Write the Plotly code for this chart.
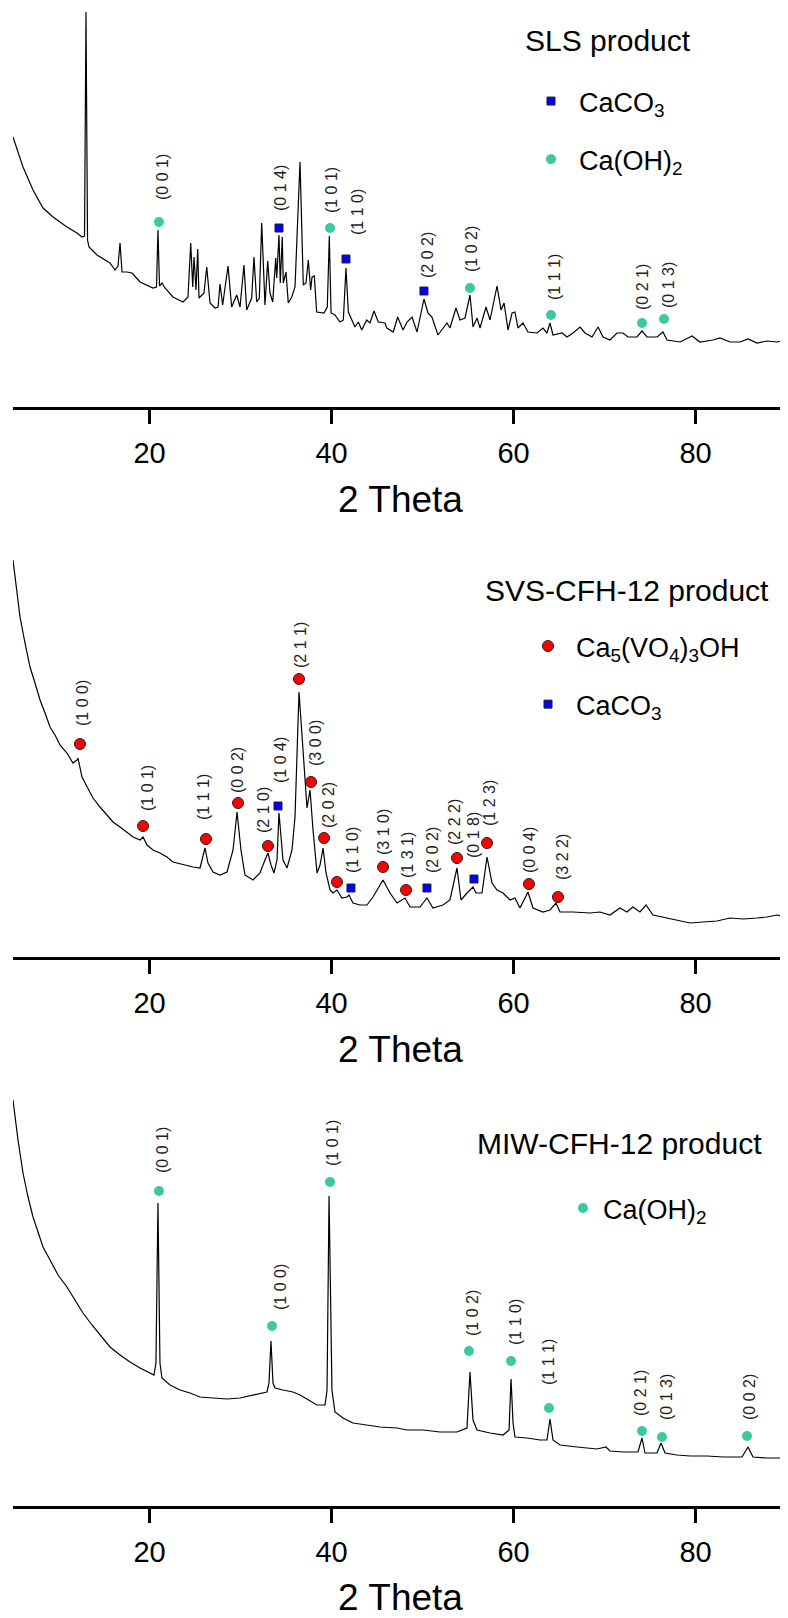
import plotly.graph_objects as go

# ---------------- Panel 1: SLS product ----------------
sls_2theta = [5.00, 6.10, 7.20, 8.30, 9.40, 10.93, 12.03, 12.58, 12.86, 13.02, 13.19, 13.35, 14.23, 15.66,
              16.21, 16.54, 16.76, 16.98, 17.53, 18.08, 18.96, 20.38, 20.77, 20.93, 21.10, 21.37, 21.70,
              22.58, 23.68, 24.23, 24.53, 24.75, 24.89, 25.11, 25.30, 25.44, 25.99, 26.29, 26.65, 27.20,
              27.53, 27.75, 28.04, 28.63, 29.03, 29.58, 29.95, 30.38, 30.68, 31.23, 31.48, 31.78, 32.07,
              32.33, 32.69, 32.99, 33.24, 33.54, 33.87, 33.98, 34.23, 34.37, 34.59, 34.70, 35.00, 35.25,
              35.63, 35.99, 36.54, 36.90, 37.20, 37.45, 37.71, 37.86, 38.11, 38.37, 39.18, 39.54, 39.76,
              39.95, 40.38, 40.93, 41.30, 41.59, 41.85, 42.58, 42.95, 43.32, 43.87, 44.23, 44.67, 45.14,
              45.88, 46.07, 46.79, 47.27, 47.86, 48.30, 48.85, 49.40, 50.16, 50.60, 51.04, 51.70, 52.69,
              53.02, 53.68, 54.12, 54.67, 55.22, 55.55, 55.99, 56.32, 56.98, 57.42, 58.19, 58.63, 58.96,
              59.40, 59.84, 60.16, 60.49, 61.04, 61.59, 62.58, 63.24, 63.68, 64.01, 64.34, 65.33, 65.88,
              66.54, 67.31, 67.86, 68.63, 69.29, 69.84, 70.60, 71.37, 72.03, 72.58, 73.57, 74.12, 74.67,
              75.77, 76.43, 76.87, 78.30, 79.62, 80.49, 81.92, 82.69, 83.79, 84.89, 85.77, 86.76, 87.86,
              88.96, 90.05]
sls_intensity = [270, 240, 217, 199, 190, 180, 174, 170, 171, 395, 167, 160, 152, 144,
                 137, 141, 164, 135, 135, 134, 125, 119, 120, 177, 121, 124, 119,
                 110, 105, 110, 164, 120, 150, 117, 158, 109, 114, 140, 104, 99,
                 100, 123, 102, 141, 100, 112, 100, 142, 97, 109, 150, 105, 109,
                 184, 102, 146, 114, 105, 149, 129, 172, 124, 170, 124, 135, 104,
                 110, 120, 245, 122, 124, 147, 117, 130, 131, 95, 94, 100, 171,
                 94, 92, 85, 87, 139, 95, 80, 85, 77, 87, 84, 96, 85,
                 84, 79, 75, 90, 77, 85, 90, 75, 108, 94, 90, 72, 84,
                 79, 99, 87, 89, 112, 80, 89, 79, 100, 87, 121, 97, 104,
                 77, 94, 95, 79, 84, 75, 74, 79, 74, 84, 72, 74, 70,
                 74, 80, 74, 70, 80, 70, 67, 74, 74, 70, 70, 76, 70,
                 70, 75, 67, 65, 71, 65, 67, 69, 65, 65, 68, 64, 66,
                 65, 67]
sls_caoh2_2theta = [21.04, 39.84, 55.22, 64.12, 74.12, 76.54]
sls_caoh2_int = [185, 179, 119, 92, 84, 88]
sls_caco3_2theta = [34.23, 41.59, 50.16]
sls_caco3_int = [179, 148, 116]
sls_hkl = ["(0 0 1)", "(0 1 4)", "(1 0 1)", "(1 1 0)", "(2 0 2)", "(1 0 2)", "(1 1 1)", "(0 2 1)", "(0 1 3)"]
sls_hkl_2theta = [21.37, 34.34, 39.95, 42.80, 50.49, 55.33, 64.45, 74.12, 76.98]
sls_hkl_int = [205, 194, 192, 170, 127, 133, 105, 95, 97]

# ---------------- Panel 2: SVS-CFH-12 product ----------------
svs_2theta = [5.00, 5.44, 5.77, 6.32, 6.87, 7.42, 7.97, 8.52, 9.07, 9.62, 10.16, 10.93, 11.59, 12.03,
              12.14, 12.58, 13.13, 13.79, 14.56, 15.33, 15.99, 16.76, 17.53, 18.19, 18.96, 19.29, 19.73,
              20.38, 21.15, 21.92, 22.58, 23.35, 24.12, 24.78, 25.55, 26.10, 26.43, 26.98, 27.75, 28.52,
              29.18, 29.62, 30.05, 30.49, 31.37, 32.14, 32.69, 33.02, 33.35, 33.68, 34.01, 34.23, 34.67,
              35.11, 35.66, 35.99, 36.43, 36.76, 36.87, 37.31, 37.64, 37.97, 38.41, 38.74, 39.07, 39.40,
              39.84, 40.16, 40.60, 41.15, 41.70, 41.92, 42.36, 43.13, 43.90, 44.56, 45.66, 46.43, 47.20,
              48.08, 48.63, 49.73, 50.49, 51.15, 52.25, 53.02, 53.79, 54.23, 54.89, 55.55, 55.88, 56.54,
              57.09, 57.64, 58.19, 58.85, 59.62, 60.16, 60.71, 61.59, 62.14, 63.24, 64.01, 64.67, 65.11,
              66.54, 68.41, 69.51, 70.60, 71.70, 72.47, 73.13, 73.90, 74.56, 75.33, 76.43, 77.97, 79.40,
              80.82, 82.36, 83.79, 85.22, 86.76, 87.86, 88.96, 90.05]
svs_intensity = [397, 367, 340, 314, 290, 274, 257, 244, 230, 222, 212, 204, 194, 197,
                 199, 180, 170, 159, 150, 142, 135, 130, 125, 120, 117, 120, 112,
                 107, 104, 100, 95, 93, 91, 90, 89, 109, 94, 85, 82, 85,
                 107, 145, 107, 82, 77, 84, 97, 104, 92, 84, 97, 144, 97,
                 89, 107, 140, 265, 220, 207, 149, 167, 127, 84, 92, 109, 84,
                 67, 64, 67, 59, 60, 62, 54, 52, 52, 60, 77, 64, 54,
                 59, 50, 50, 59, 49, 52, 57, 89, 57, 64, 70, 64, 64,
                 100, 74, 67, 64, 57, 59, 49, 65, 49, 45, 47, 54, 45,
                 45, 44, 45, 42, 49, 45, 50, 45, 52, 42, 40, 37, 34,
                 35, 36, 39, 38, 39, 40, 42, 39]
svs_cvo_2theta = [12.36, 19.29, 26.21, 29.73, 33.02, 36.43, 37.75, 39.18, 40.60, 45.66, 48.19, 53.79, 57.09,
                  61.70, 64.89]
svs_cvo_int = [213, 131, 118, 154, 111, 278, 175, 119, 75, 90, 67, 99, 114, 73, 60]
svs_caco3_2theta = [34.12, 42.14, 50.49, 55.66]
svs_caco3_int = [151, 69, 69, 78]
svs_hkl = ["(1 0 0)", "(1 0 1)", "(1 1 1)", "(0 0 2)", "(2 1 0)", "(1 0 4)", "(2 1 1)", "(3 0 0)", "(2 0 2)",
           "(1 1 0)", "(3 1 0)", "(1 3 1)", "(2 0 2)", "(2 2 2)", "(0 1 8)", "(1 2 3)", "(0 0 4)", "(3 2 2)"]
svs_hkl_2theta = [12.58, 19.73, 25.88, 29.62, 32.47, 34.34, 36.54, 38.19, 39.62, 42.25, 45.66, 48.30, 51.04,
                  53.46, 55.55, 57.31, 61.70, 65.33]
svs_hkl_int = [229, 144, 135, 162, 122, 172, 287, 189, 127, 82, 100, 77, 82, 110, 97, 129, 82, 75]

# ---------------- Panel 3: MIW-CFH-12 product ----------------
miw_2theta = [5.00, 5.55, 6.10, 6.65, 7.20, 7.75, 8.30, 9.07, 9.95, 10.93, 11.81, 12.69, 13.68, 14.56,
              15.66, 16.76, 17.86, 18.96, 20.05, 20.49, 20.71, 20.93, 21.15, 21.37, 22.25, 23.35, 24.45,
              25.55, 26.98, 28.52, 29.95, 31.37, 32.91, 33.13, 33.35, 33.57, 33.79, 34.67, 35.77, 36.54,
              37.42, 38.41, 39.29, 39.51, 39.73, 40.05, 40.38, 41.26, 42.36, 43.90, 45.33, 47.20, 48.30,
              50.05, 51.92, 53.79, 54.89, 55.11, 55.22, 55.55, 55.99, 57.42, 58.85, 59.51, 59.73, 59.95,
              60.16, 61.48, 62.91, 63.68, 64.01, 64.34, 65.11, 66.98, 69.18, 70.16, 70.60, 72.03, 73.68,
              74.12, 74.45, 75.77, 76.21, 76.65, 77.97, 79.40, 81.26, 83.02, 85.11, 85.77, 86.32, 87.86,
              90.05]
miw_intensity = [406, 366, 333, 309, 289, 273, 259, 246, 231, 219, 206, 193, 181, 171,
                 159, 151, 144, 138, 133, 131, 143, 303, 143, 128, 121, 116, 113,
                 109, 108, 107, 108, 111, 114, 123, 165, 123, 118, 116, 114, 111,
                 106, 101, 101, 116, 310, 116, 94, 88, 83, 81, 79, 78, 76,
                 76, 74, 74, 78, 116, 134, 86, 76, 73, 71, 76, 127, 83,
                 69, 68, 66, 66, 87, 66, 61, 59, 57, 59, 55, 54, 54,
                 68, 53, 53, 63, 53, 51, 50, 50, 49, 49, 59, 49, 48,
                 48]
miw_caoh2_2theta = [21.04, 33.46, 39.84, 55.11, 59.73, 63.90, 74.12, 76.32, 85.66]
miw_caoh2_int = [315, 180, 324, 155, 145, 98, 75, 69, 70]
miw_hkl = ["(0 0 1)", "(1 0 0)", "(1 0 1)", "(1 0 2)", "(1 1 0)", "(1 1 1)", "(0 2 1)", "(0 1 3)", "(0 0 2)"]
miw_hkl_2theta = [21.37, 34.34, 40.05, 55.44, 60.16, 63.79, 73.90, 76.76, 85.88]
miw_hkl_int = [331, 194, 338, 168, 159, 119, 88, 84, 84]

titles = ["SLS product", "SVS-CFH-12 product", "MIW-CFH-12 product"]
x_ticks = [20, 40, 60, 80]

# ---------------- styling ----------------
# The page body has an 8 px margin, so the figure is sized to end exactly at the window edge.
BODY = 8
W, H = 788 - BODY, 1618 - BODY
ML = 13 - BODY          # left margin so that 2θ = 5 sits 13 px from the window edge
PW = W - ML             # plot width (775 px)
FONT = "Liberation Sans, Arial, sans-serif"
GREEN = "#3CC8A0"
RED = "#FF0000"
BLUE = "#0000FF"


def px_x(p):
    """window x pixel -> paper fraction"""
    return (p - BODY - ML) / PW


def px_y(p):
    """window y pixel -> paper fraction"""
    return 1 - (p - BODY) / H


fig = go.Figure()

panels = [
    dict(x=sls_2theta, y=sls_intensity, ax="x", ay="y",
         markers=[("CaCO<sub>3</sub>", sls_caco3_2theta, sls_caco3_int, "square", BLUE, 8),
                  ("Ca(OH)<sub>2</sub>", sls_caoh2_2theta, sls_caoh2_int, "circle", GREEN, 10)],
         hkl=(sls_hkl, sls_hkl_2theta, sls_hkl_int), legend="legend"),
    dict(x=svs_2theta, y=svs_intensity, ax="x2", ay="y2",
         markers=[("Ca<sub>5</sub>(VO<sub>4</sub>)<sub>3</sub>OH", svs_cvo_2theta, svs_cvo_int, "circle", RED, 11),
                  ("CaCO<sub>3</sub>", svs_caco3_2theta, svs_caco3_int, "square", BLUE, 8)],
         hkl=(svs_hkl, svs_hkl_2theta, svs_hkl_int), legend="legend2"),
    dict(x=miw_2theta, y=miw_intensity, ax="x3", ay="y3",
         markers=[("Ca(OH)<sub>2</sub>", miw_caoh2_2theta, miw_caoh2_int, "circle", GREEN, 10)],
         hkl=(miw_hkl, miw_hkl_2theta, miw_hkl_int), legend="legend3"),
]

annotations = []
for i, p in enumerate(panels):
    fig.add_trace(go.Scatter(x=p["x"], y=p["y"], mode="lines", xaxis=p["ax"], yaxis=p["ay"],
                             line=dict(color="black", width=1.2), showlegend=False, hoverinfo="skip"))
    for j, (name, mx, my, sym, col, sz) in enumerate(p["markers"]):
        outline = "#222222" if col != GREEN else GREEN
        fig.add_trace(go.Scatter(x=mx, y=my, mode="markers", xaxis=p["ax"], yaxis=p["ay"], name=name,
                                 legend=p["legend"], legendgroup=f"g{i}{j}",
                                 marker=dict(symbol=sym, color=col, size=sz,
                                             line=dict(color=outline, width=1 if col != GREEN else 0))))
    txt, hx, hy = p["hkl"]
    for t, xx, yy in zip(txt, hx, hy):
        annotations.append(dict(x=xx, y=yy, xref=p["ax"], yref=p["ay"], text=t, textangle=-90,
                                xanchor="center", yanchor="bottom", showarrow=False,
                                font=dict(family=FONT, size=16, color="#222222")))

# panel titles
title_pos = [(608, 41), (627, 590), (619, 1143)]
for t, (tx, ty) in zip(titles, title_pos):
    annotations.append(dict(x=px_x(tx), y=px_y(ty), xref="paper", yref="paper", text=t, showarrow=False,
                            xanchor="center", yanchor="middle", font=dict(family=FONT, size=30, color="black")))

# axes (window pixel rows of each axis line and of each panel top)
axis_lines = [407, 957, 1506]
axis_tops = [8, 540, 1085]
layout = dict(width=W, height=H, margin=dict(l=ML, r=0, t=0, b=0, autoexpand=False), plot_bgcolor="white",
              paper_bgcolor="white", annotations=annotations, font=dict(family=FONT))
for k, (a, t) in enumerate(zip(axis_lines, axis_tops)):
    sfx = "" if k == 0 else str(k + 1)
    layout["xaxis" + sfx] = dict(range=[5, 5 + PW / 9.1], domain=[0, 1], anchor="y" + sfx,
                                 showline=True, linecolor="black", linewidth=2.5, ticks="outside",
                                 ticklen=14, tickwidth=2.5, tickcolor="black", tickvals=x_ticks,
                                 showgrid=False, zeroline=False, ticklabelstandoff=4, automargin=False,
                                 tickfont=dict(family=FONT, size=29, color="black"),
                                 title=dict(text="2 Theta", font=dict(family=FONT, size=37, color="black"),
                                            standoff=19))
    layout["yaxis" + sfx] = dict(range=[0, a - t], domain=[px_y(a), px_y(t)], anchor="x" + sfx,
                                 visible=False, showgrid=False, zeroline=False)

leg_common = dict(font=dict(family=FONT, size=27, color="black"), bgcolor="rgba(0,0,0,0)",
                  traceorder="grouped", tracegroupgap=20, xanchor="left", yanchor="top",
                  xref="paper", yref="paper")
layout["legend"] = dict(x=px_x(523), y=px_y(77), itemwidth=46, **leg_common)
layout["legend2"] = dict(x=px_x(520), y=px_y(622), itemwidth=46, **leg_common)
layout["legend3"] = dict(x=px_x(563), y=px_y(1184), itemwidth=30, **leg_common)

fig.update_layout(**layout)
fig.write_html("out.html")
